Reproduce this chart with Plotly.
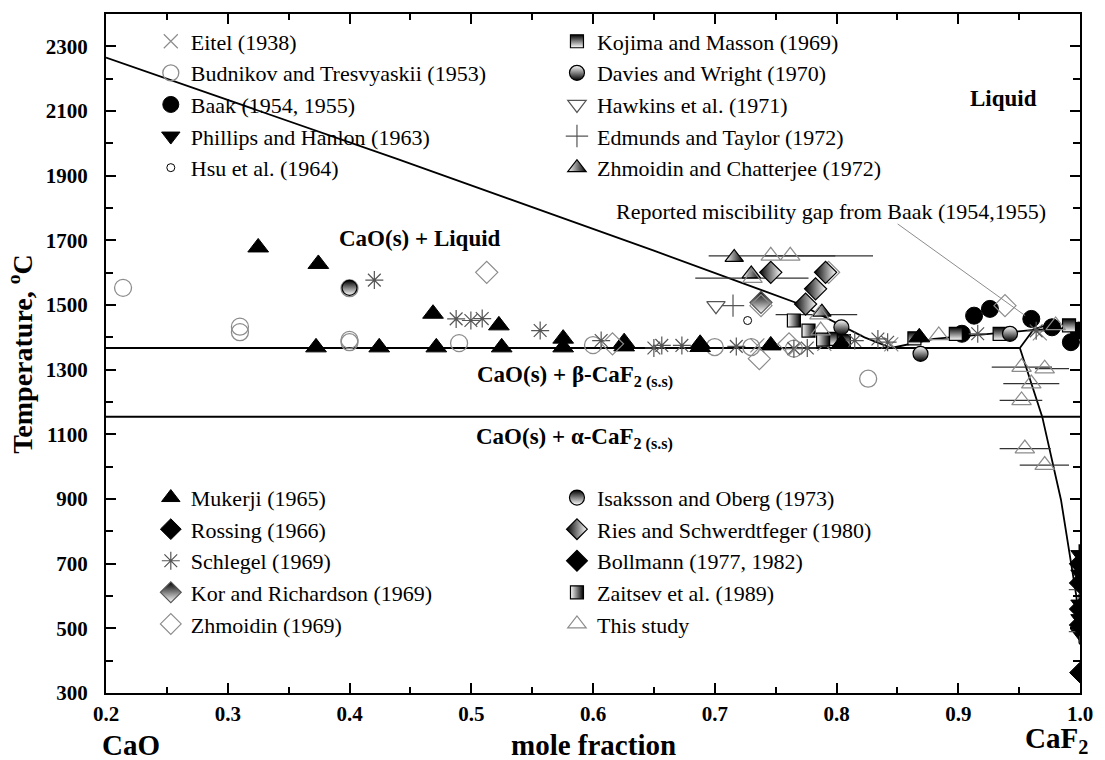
import plotly.graph_objects as go

# ---------------- data ----------------
# phase boundaries
liq_cao_x = [0.2, 0.439, 0.65, 0.769, 0.823, 0.845]
liq_cao_T = [2265, 1952, 1668, 1504, 1400, 1367]
eut_x = [0.2, 0.9506]
eut_T = [1367, 1367]
trans_x = [0.2, 1.0]
trans_T = [1154, 1154]
liq_caf2_x = [0.845, 0.88, 0.93, 0.96, 1.0]
liq_caf2_T = [1367, 1395, 1412, 1422, 1431]
sol_caf2_x = [0.9506, 0.962, 0.975]
sol_caf2_T = [1367, 1425, 1440]
solvus_x = [0.9506, 0.969, 0.9844, 0.991, 0.997, 1.0]
solvus_T = [1367, 1154, 897, 742, 600, 450]

# experimental series
eitel_x = [0.735, 0.79, 0.845, 0.967, 1.0]
eitel_T = [1375, 1380, 1378, 1412, 1385]
budnikov_x = [0.214, 0.31, 0.31, 0.40, 0.40, 0.40, 0.49, 0.60, 0.70, 0.73, 0.765, 0.826]
budnikov_T = [1553, 1433, 1416, 1552, 1392, 1385, 1382, 1376, 1370, 1370, 1365, 1272]
baak_x = [0.903, 0.913, 0.926, 0.96, 0.977, 0.9925, 0.999]
baak_T = [1411, 1467, 1488, 1457, 1431, 1385, 1421]
phillips_x = [1.0, 1.0, 1.0, 1.0, 1.0]
phillips_T = [728, 668, 575, 530, 485]
hsu_x = [0.727]
hsu_T = [1452]
mukerji_x = [0.325, 0.3744, 0.3725, 0.4244, 0.4686, 0.4713, 0.5227, 0.525, 0.5755, 0.5755,
             0.6256, 0.6256, 0.688, 0.688, 0.746, 0.804, 0.868]
mukerji_T = [1678, 1627, 1369, 1369, 1473, 1369, 1437, 1369, 1396, 1369,
             1385, 1372, 1380, 1370, 1375, 1380, 1400]
rossing_x = [1.0]
rossing_T = [363]
schlegel_x = [0.4204, 0.4876, 0.4997, 0.509, 0.5566, 0.6067, 0.65, 0.6565, 0.673, 0.7177,
              0.765, 0.776, 0.815, 0.834, 0.842, 0.916, 0.964]
schlegel_T = [1577, 1457, 1452, 1458, 1421, 1390, 1367, 1375, 1375, 1372,
              1365, 1367, 1390, 1395, 1385, 1411, 1420]
kor_x = [0.738]
kor_T = [1508]
zhmoidin_x = [0.5127, 0.616, 0.7366, 0.738, 0.7935, 0.9384, 0.761]
zhmoidin_T = [1601, 1380, 1334, 1498, 1601, 1498, 1380]
kojima_x = [0.798, 0.806, 0.864, 0.898, 0.934, 0.991]
kojima_T = [1395, 1388, 1397, 1411, 1411, 1437]
davies_x = [0.804, 0.869, 0.9425]
davies_T = [1431, 1349, 1411]
hawkins_x = [0.701]
hawkins_T = [1498]
edmunds_x = [0.715, 1.0, 1.0]
edmunds_T = [1498, 620, 490]
zc_x = [0.716, 0.73, 0.788]
zc_T = [1647, 1596, 1478]
isaksson_x = [0.40]
isaksson_T = [1553]
ries_x = [0.746, 0.791, 0.7828, 0.7746]
ries_T = [1601, 1601, 1550, 1503]
bollmann_x = [1.0, 1.0, 1.0, 1.0]
bollmann_T = [700, 640, 560, 510]
zaitsev_x = [0.765, 0.777, 0.789]
zaitsev_T = [1452, 1421, 1393]
study_x = [0.746, 0.762, 0.731, 0.786, 0.787, 0.884, 0.952, 0.971, 0.96, 0.952, 0.9547, 0.971, 0.98]
study_T = [1652, 1652, 1583, 1470, 1421, 1406, 1308, 1303, 1257, 1205, 1056, 1005, 1437]
study_err_minus = [0.051, 0.022, 0.047, 0.036, 0.0, 0.0, 0.0245, 0.008, 0.023, 0.018, 0.0207, 0.0205, 0.0]
study_err_plus = [0.053, 0.068, 0.046, 0.031, 0.0, 0.0, 0.025, 0.020, 0.023, 0.017, 0.0213, 0.020, 0.0]

SERIF = "Liberation Serif, Times New Roman, serif"
GREY = "#8c8c8c"

fig = go.Figure()

def line(x, y, w=1.8, color="black"):
    fig.add_trace(go.Scatter(x=x, y=y, mode="lines", line=dict(color=color, width=w),
                             showlegend=False, hoverinfo="skip"))

line(liq_cao_x, liq_cao_T)
line(eut_x, eut_T, 2)
line(trans_x, trans_T, 2)
line(liq_caf2_x, liq_caf2_T)
line(sol_caf2_x, sol_caf2_T)
line(solvus_x, solvus_T)

# error bars (no legend)
fig.add_trace(go.Scatter(x=study_x, y=study_T, mode="markers", marker=dict(size=1, opacity=0),
                         error_x=dict(type="data", array=study_err_plus, arrayminus=study_err_minus,
                                      color="#333333", thickness=1.2, width=0),
                         showlegend=False, hoverinfo="skip"))
fig.add_trace(go.Scatter(x=phillips_x, y=phillips_T, mode="markers", marker=dict(size=1, opacity=0),
                         error_y=dict(type="constant", value=32, color="black", thickness=3, width=0),
                         showlegend=False, hoverinfo="skip"))


def series(name, x, y, legend, symbol, size, color="black", line_color="black", lw=1,
           gradient=None):
    m = dict(symbol=symbol, size=size, color=color, line=dict(color=line_color, width=lw))
    if gradient:
        m["gradient"] = gradient
    fig.add_trace(go.Scatter(x=x, y=y, mode="markers", name=name, marker=m, legend=legend))

# top-left legend
series("Eitel (1938)", eitel_x, eitel_T, "legend", "x-thin-open", 14, GREY, GREY, 1.2)
series("Budnikov and Tresvyaskii (1953)", budnikov_x, budnikov_T, "legend", "circle-open", 17, GREY, GREY, 1.3)
series("Baak (1954, 1955)", baak_x, baak_T, "legend", "circle", 17, "black", "black", 1)
series("Phillips and Hanlon (1963)", phillips_x, phillips_T, "legend", "triangle-down", 16, "black", "black", 1)
series("Hsu et al. (1964)", hsu_x, hsu_T, "legend", "circle-open", 8, "black", "black", 1)
# top-right legend
series("Kojima and Masson (1969)", kojima_x, kojima_T, "legend2", "square", 13, "black", "black", 1.2,
       dict(type="vertical", color="white"))
series("Davies and Wright (1970)", davies_x, davies_T, "legend2", "circle", 15, "white", "black", 1.2,
       dict(type="vertical", color="black"))
series("Hawkins et al. (1971)", hawkins_x, hawkins_T, "legend2", "triangle-down-open", 16, "#555555", "#555555", 1.2)
series("Edmunds and Taylor (1972)", edmunds_x, edmunds_T, "legend2", "cross-thin-open", 16, "#555555", "#555555", 1.2)
series("Zhmoidin and Chatterjee (1972)", zc_x, zc_T, "legend2", "triangle-up", 16, "white", "black", 1.2,
       dict(type="horizontal", color="black"))
# bottom-left legend
series("Mukerji (1965)", mukerji_x, mukerji_T, "legend3", "triangle-up", 18, "black", "black", 1)
series("Rossing (1966)", rossing_x, rossing_T, "legend3", "diamond", 16, "black", "black", 1)
series("Schlegel (1969)", schlegel_x, schlegel_T, "legend3", "asterisk-open", 15, "#555555", "#555555", 1.2)
series("Kor and Richardson (1969)", kor_x, kor_T, "legend3", "diamond", 17, "black", "#555555", 1.2,
       dict(type="vertical", color="white"))
series("Zhmoidin (1969)", zhmoidin_x, zhmoidin_T, "legend3", "diamond-open", 17, GREY, GREY, 1.2)
# bottom-right legend
series("Isaksson and Oberg (1973)", isaksson_x, isaksson_T, "legend4", "circle", 15, "black", "black", 1.2,
       dict(type="vertical", color="white"))
series("Ries and Schwerdtfeger (1980)", ries_x, ries_T, "legend4", "diamond", 17, "black", "black", 1.2,
       dict(type="horizontal", color="white"))
series("Bollmann (1977, 1982)", bollmann_x, bollmann_T, "legend4", "diamond", 16, "black", "black", 1.2)
series("Zaitsev et al. (1989)", zaitsev_x, zaitsev_T, "legend4", "square", 13, "white", "black", 1.2,
       dict(type="horizontal", color="black"))
series("This study", study_x, study_T, "legend4", "triangle-up-open", 17, GREY, GREY, 1.2)

legend_common = dict(font=dict(family=SERIF, size=22, color="black"), bgcolor="rgba(0,0,0,0)",
                     xanchor="left", yanchor="top", itemsizing="trace", itemclick=False,
                     itemdoubleclick=False, borderwidth=0)
fig.update_layout(
    legend=dict(x=0.046, y=0.9905, **legend_common),
    legend2=dict(x=0.463, y=0.9905, **legend_common),
    legend3=dict(x=0.046, y=0.3185, **legend_common),
    legend4=dict(x=0.463, y=0.3185, **legend_common),
)

bold = dict(family=SERIF, size=21, color="black", weight="bold")
fig.update_xaxes(range=[0.2, 1.0], tickvals=[0.2, 0.3, 0.4, 0.5, 0.6, 0.7, 0.8, 0.9, 1.0],
                 tickformat=".1f", ticks="inside", ticklen=10, tickwidth=1.5, tickcolor="black",
                 minor=dict(dtick=0.05, ticklen=6, ticks="inside", tickcolor="black", tickwidth=1.5),
                 showline=True, linewidth=2, linecolor="black", mirror="allticks",
                 showgrid=False, zeroline=False, tickfont=bold, ticklabelstandoff=1)
fig.update_yaxes(range=[300, 2400], tick0=300, dtick=200, ticks="inside", ticklen=10, tickwidth=1.5,
                 tickcolor="black",
                 minor=dict(dtick=100, ticklen=7, ticks="inside", tickcolor="black", tickwidth=1.5),
                 showline=True, linewidth=2, linecolor="black", mirror="allticks",
                 showgrid=False, zeroline=False, tickfont=bold, ticklabelstandoff=12)

big = dict(family=SERIF, size=29, color="black", weight="bold")
lab = dict(family=SERIF, size=23, color="black", weight="bold")
ann = [
    dict(x=-0.088, y=0.5, xref="paper", yref="paper", text="Temperature, <sup>o</sup>C",
         xanchor="center", yanchor="middle",
         textangle=-90, showarrow=False, font=dict(family=SERIF, size=28, color="black", weight="bold")),
    dict(x=-0.006, y=-0.0764, xref="paper", yref="paper", text="CaO", xanchor="left", yanchor="middle",
         showarrow=False, font=big),
    dict(x=0.5, y=-0.0764, xref="paper", yref="paper", text="mole fraction", yanchor="middle",
         showarrow=False, font=big),
    dict(x=1.01, y=-0.0764, xref="paper", yref="paper", text="CaF<sub>2</sub>", xanchor="right",
         yanchor="middle", yshift=5, showarrow=False, font=big),
    dict(x=0.937, y=2140, text="Liquid", showarrow=False, font=lab),
    dict(x=0.458, y=1707, text="CaO(s) + Liquid", showarrow=False, font=lab),
    dict(x=0.585, y=1280, text="CaO(s) + β-CaF<sub>2 (s.s)</sub>", showarrow=False, font=lab),
    dict(x=0.585, y=1088, text="CaO(s) + α-CaF<sub>2 (s.s)</sub>", showarrow=False, font=lab),
    dict(x=0.955, y=1467, ax=0.849, ay=1754, axref="x", ayref="y", text="", showarrow=True,
         arrowhead=0, arrowwidth=1, arrowcolor=GREY),
    dict(x=0.974, y=1790, text="Reported miscibility gap from Baak (1954,1955)", showarrow=False,
         xanchor="right", font=dict(family=SERIF, size=22, color="black")),
]
fig.update_layout(
    width=1105, height=760, margin=dict(l=106, r=14, t=12, b=67),
    plot_bgcolor="white", paper_bgcolor="white", annotations=ann,
)
fig.write_html("out.html")
